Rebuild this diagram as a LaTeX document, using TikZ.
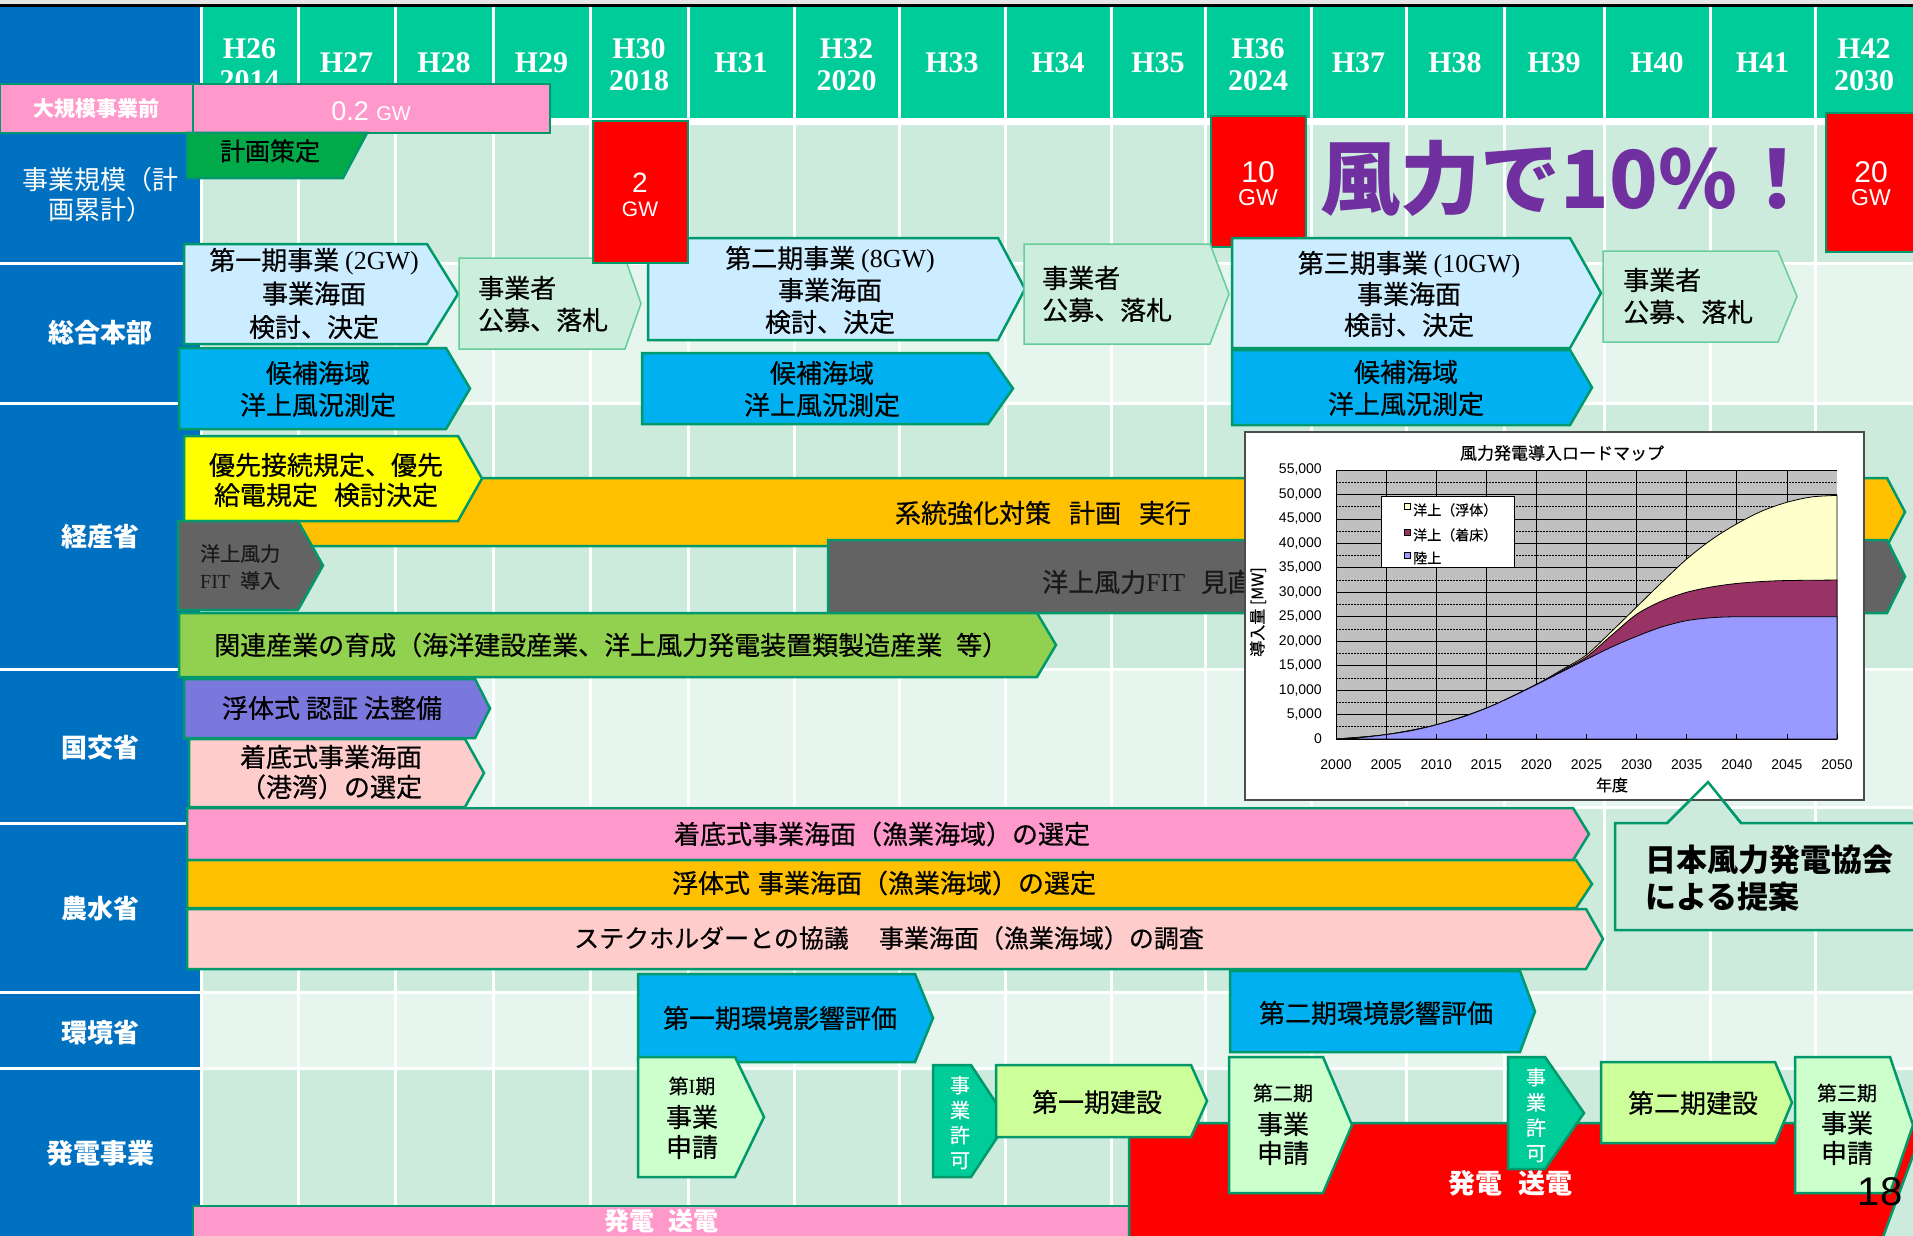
\documentclass[tikz,border=0pt]{standalone}
\usepackage{fontspec}
\setmainfont{Noto Sans CJK JP}
\newfontfamily\jp{Noto Sans CJK JP}
\newfontfamily\jpm{Noto Sans CJK JP}[FakeBold=0.5]
\newfontfamily\lsans{Liberation Sans}
\newfontfamily\lser{Liberation Serif}
\definecolor{hdgreen}{HTML}{00CC99}
\definecolor{colblue}{HTML}{0070C0}
\definecolor{gdark}{HTML}{CDEBDD}
\definecolor{glight}{HTML}{E6F5EE}
\definecolor{bord}{HTML}{00996B}
\definecolor{pinkA}{HTML}{FF99CC}
\definecolor{ltblue}{HTML}{CCECFF}
\definecolor{mint}{HTML}{CCEEDD}
\definecolor{mintb}{HTML}{66CC99}
\definecolor{skyb}{HTML}{00B0F0}
\definecolor{yel}{HTML}{FFFF00}
\definecolor{orng}{HTML}{FFC000}
\definecolor{gry}{HTML}{636363}
\definecolor{lgreen}{HTML}{92D050}
\definecolor{purp}{HTML}{7B78DD}
\definecolor{ltpink}{HTML}{FFCCCC}
\definecolor{tealb}{HTML}{00CC99}
\definecolor{ltgreen}{HTML}{CCFFCC}
\definecolor{ygreen}{HTML}{CCFF99}
\definecolor{purtxt}{HTML}{7030A0}
\definecolor{kgreen}{HTML}{00AA48}
\definecolor{chgray}{HTML}{C0C0C0}
\definecolor{chblue}{HTML}{9999FF}
\definecolor{chmar}{HTML}{993366}
\definecolor{chcream}{HTML}{FFFFCC}
\definecolor{redb}{HTML}{FF0000}
\newcommand\arrbox[6][]{\filldraw[#1] (#2,#3) -- (#4,#3) -- (#5,{(#3+#6)/2}) -- (#4,#6) -- (#2,#6) -- cycle;}
\tikzset{
 box/.style={draw=bord, line width=2.5pt},
 mintbox/.style={draw=mintb, line width=1.5pt, fill=mint},
 tx/.style={inner sep=0pt, align=center, font=\jpm\fontsize{26}{33}\selectfont},
 lab/.style={inner sep=0pt, align=center, text=white, font=\jp\bfseries\fontsize{26}{30}\selectfont},
 hd/.style={inner sep=0pt, align=center, text=white, font=\lser\bfseries\fontsize{30}{32}\selectfont},
 gridw/.style={white, line width=3pt},
 chl/.style={inner sep=0pt, font=\lsans\fontsize{14}{14}\selectfont},
}
\begin{document}
\begin{tikzpicture}[x=1pt, y=-1pt]
\useasboundingbox (0,0) rectangle (1913,1236);
\fill[white] (0,0) rectangle (1913,1236);
\fill[black!10] (0,0) rectangle (1913,4);
\draw[black, line width=2.5pt] (0,5.5) -- (1913,5.5);
% header and left column
\fill[hdgreen] (201,7) rectangle (1913,118);
\fill[colblue] (0,7) rectangle (201,1236);
% row backgrounds
\fill[gdark] (201,125) rectangle (1913,263);
\fill[glight] (201,263) rectangle (1913,403);
\fill[gdark] (201,403) rectangle (1913,669);
\fill[glight] (201,669) rectangle (1913,807);
\fill[gdark] (201,807) rectangle (1913,992);
\fill[glight] (201,992) rectangle (1913,1068);
\fill[gdark] (201,1068) rectangle (1913,1236);
% grid lines
\foreach \gx in {201,298,395,493,590,688,794,899,1005,1111,1205,1311,1406,1504,1604,1710,1815}
  \draw[gridw] (\gx,7) -- (\gx,1236);
\foreach \gy in {263,403,669,807,992,1068}
  \draw[gridw] (201,\gy) -- (1913,\gy);
\foreach \gy in {263,403,669,823,992,1068}
  \draw[gridw] (0,\gy) -- (201,\gy);
% header labels
\foreach \cx/\lbl/\cy [count=\i] in {249.5/{H26\\2014}/65, 346.5/H27/63, 444/H28/63, 541.5/H29/63, 639/{H30\\2018}/65, 741/H31/63, 846.5/{H32\\2020}/65, 952/H33/63, 1058/H34/63, 1158/H35/63, 1258/{H36\\2024}/65, 1358.5/H37/63, 1455/H38/63, 1554/H39/63, 1657/H40/63, 1762.5/H41/63, 1864/{H42\\2030}/65}
  \node[hd] (hd\i) at (\cx,\cy) {\lbl};
% left labels
\node[inner sep=0pt, align=center, text=white, font=\jp\fontsize{26}{30}\selectfont] (lbjigyo) at (100,195) {事業規模（計\\画累計）};
\node[lab] (lbsogo) at (100,333) {総合本部};
\node[lab] (lbkeisan) at (100,537) {経産省};
\node[lab] (lbkokko) at (100,748) {国交省};
\node[lab] (lbnosui) at (100,909) {農水省};
\node[lab] (lbkankyo) at (100,1033) {環境省};
\node[lab, font=\jp\bfseries\fontsize{27}{30}\selectfont] (lbhatsu) at (100,1153) {発電事業};
% pre-scale boxes
\draw[box, fill=pinkA] (0,84) rectangle (193,133);
\node[inner sep=0pt, text=white, font=\jp\bfseries\fontsize{21}{21}\selectfont] (daikibo) at (96,109) {大規模事業前};
\draw[box, fill=pinkA] (193,84) rectangle (550,133);
\node[inner sep=0pt, text=white, font=\lsans\fontsize{27}{27}\selectfont] (gw02) at (371,111) {0.2 {\fontsize{20}{20}\selectfont GW}};
% keikaku
\filldraw[box, fill=kgreen] (187,133) -- (367,133) -- (343,178) -- (187,178) -- cycle;
\node[tx, font=\jpm\fontsize{25}{30}\selectfont] (keikaku) at (270,151) {計画策定};
% red 10 / 20
\draw[box, fill=redb] (1211,116) rectangle (1306,247);
\node[inner sep=0pt, text=white, font=\lsans\fontsize{30}{30}\selectfont] (r10a) at (1258,172) {10};
\node[inner sep=0pt, text=white, font=\lsans\fontsize{23}{23}\selectfont] (r10b) at (1258,198) {GW};
\draw[box, fill=redb] (1826,113) rectangle (1925,252);
\node[inner sep=0pt, text=white, font=\lsans\fontsize{30}{30}\selectfont] (r20a) at (1871,172) {20};
\node[inner sep=0pt, text=white, font=\lsans\fontsize{23}{23}\selectfont] (r20b) at (1871,198) {GW};
% sogo honbu boxes
\arrbox[box, fill=ltblue]{184}{244}{427}{458}{344}
\node[tx, font=\jpm\fontsize{26}{33.5}\selectfont] (s1) at (314,293.5) {第一期事業 {\lser (2GW)}\\事業海面\\検討、決定};
\arrbox[mintbox]{459}{258}{625}{641}{349}
\node[tx, align=left, anchor=west, font=\jpm\fontsize{26}{32}\selectfont] (b1) at (478,304) {事業者\\公募、落札};
\arrbox[box, fill=ltblue]{648}{238}{998}{1025}{340}
\node[tx, font=\jpm\fontsize{26}{32}\selectfont] (s2) at (830,290) {第二期事業 {\lser (8GW)}\\事業海面\\検討、決定};
\arrbox[mintbox]{1024}{244}{1210}{1229}{344}
\node[tx, align=left, anchor=west, font=\jpm\fontsize{26}{32}\selectfont] (b2) at (1042,294) {事業者\\公募、落札};
\arrbox[box, fill=ltblue]{1232}{238}{1570}{1601}{348}
\node[tx, font=\jpm\fontsize{26}{31}\selectfont] (s3) at (1409,294) {第三期事業 {\lser (10GW)}\\事業海面\\検討、決定};
\arrbox[mintbox]{1603}{251}{1778}{1797}{342}
\node[tx, align=left, anchor=west, font=\jpm\fontsize{26}{32}\selectfont] (b3) at (1623,296) {事業者\\公募、落札};
\arrbox[box, fill=skyb]{179}{348}{446}{470}{429}
\node[tx, font=\jpm\fontsize{26}{32}\selectfont] (k1) at (318,389) {候補海域\\洋上風況測定};
\arrbox[box, fill=skyb]{642}{353}{988}{1013}{424}
\node[tx, font=\jpm\fontsize{26}{32}\selectfont] (k2) at (822,389) {候補海域\\洋上風況測定};
\arrbox[box, fill=skyb]{1232}{350}{1570}{1592}{425}
\node[tx, font=\jpm\fontsize{26}{32}\selectfont] (k3) at (1406,388) {候補海域\\洋上風況測定};
% red 2GW on top
\draw[box, fill=redb] (593,121) rectangle (688,263);
\node[inner sep=0pt, text=white, font=\lsans\fontsize{28}{28}\selectfont] (r2a) at (640,183) {2};
\node[inner sep=0pt, text=white, font=\lsans\fontsize{21}{21}\selectfont] (r2b) at (640,209) {GW};
% big slogan
\node[inner sep=0pt, text=purtxt, font=\jp\bfseries\fontsize{80}{80}\selectfont] (slogan) at (1569,178) {風力で10\%！};
% keisansho
\arrbox[box, fill=orng]{260}{478}{1887}{1905}{546}
\node[tx] (keito) at (1043,513) {系統強化対策\hspace{18pt}計画\hspace{18pt}実行};
\arrbox[box, fill=gry]{828}{540}{1887}{1905}{613}
\node[tx, anchor=west, text=black!90] (fitmin) at (1042,582) {洋上風力{\lser FIT}\hspace{16pt}見直し};
\arrbox[box, fill=yel]{184}{436}{458}{482}{521}
\node[tx, font=\jpm\fontsize{26}{30}\selectfont] (yusen) at (326,480) {優先接続規定、優先\\給電規定\hspace{16pt}検討決定};
\arrbox[box, fill=gry]{178}{521}{298}{323}{610}
\node[tx, align=left, anchor=west, text=black!90, font=\jpm\fontsize{20}{27}\selectfont] (fitin) at (200,567) {洋上風力\\{\lser FIT}\hspace{10pt}導入};
\arrbox[box, fill=lgreen]{179}{613}{1037}{1056}{677}
\node[tx, anchor=west] (kanren) at (214,645) {関連産業の育成（海洋建設産業、洋上風力発電装置類製造産業\hspace{14pt}等）};
% kokkosho
\arrbox[box, fill=purp]{184}{679}{475}{490}{738}
\node[tx] (futai) at (332,708) {浮体式\hspace{6pt}認証\hspace{6pt}法整備};
\arrbox[box, fill=ltpink]{189}{739}{465}{484}{807}
\node[tx, font=\jpm\fontsize{26}{30}\selectfont] (kowan) at (331,772) {着底式事業海面\\（港湾）の選定};
% nosuisho
\arrbox[box, fill=pinkA]{187}{808}{1573}{1589}{860}
\node[tx] (gyo1) at (882,834) {着底式事業海面（漁業海域）の選定};
\arrbox[box, fill=orng]{187}{860}{1576}{1592}{908}
\node[tx] (gyo2) at (884,883) {浮体式\hspace{8pt}事業海面（漁業海域）の選定};
\arrbox[box, fill=ltpink]{187}{909}{1586}{1603}{969}
\node[tx, font=\jpm\fontsize{25}{30}\selectfont] (gyo3) at (889,938) {ステクホルダーとの協議\hspace{30pt}事業海面（漁業海域）の調査};
% callout
\filldraw[box, fill=gdark] (1615,823) -- (1667,823) -- (1708,782) -- (1741,823) -- (1925,823) -- (1925,930) -- (1615,930) -- cycle;
\node[tx, align=left, anchor=west, font=\jp\bfseries\fontsize{31}{37}\selectfont] (kyokai) at (1645,878) {日本風力発電協会\\による提案};
% chart
\draw[fill=white, draw=black!70, line width=1.5pt] (1245,432) rectangle (1864,800);
\node[inner sep=0pt, font=\jpm\fontsize{17}{17}\selectfont] (ctitle) at (1562,453) {風力発電導入ロードマップ};
\begin{scope}[shift={(1336,739)}, x=10.02pt, y=4.891pt]
  \fill[chgray] (0,0) rectangle (50,55);
  \foreach \v in {5,10,...,55} \draw[black, line width=0.8pt] (0,\v) -- (50,\v);
  \foreach \v in {2.5,7.5,...,52.5} \draw[black, line width=0.7pt, dash pattern=on 2pt off 1pt] (0,\v) -- (50,\v);
  \foreach \u in {5,10,...,45} \draw[black, line width=0.8pt] (\u,0) -- (\u,55);
  \filldraw[fill=chcream, draw=black, line width=0.8pt] (0,0) -- plot[smooth, tension=0.5] coordinates {(0,0) (5,0.9) (10,2.9) (15,6.3) (20,11.2) (22.5,14.1) (25,17.2) (27.5,22.0) (30,27.0) (32.5,32.0) (35,36.8) (37.5,40.8) (40,44.0) (42.5,46.6) (45,48.4) (47.5,49.5) (50,49.8)} -- (50,0) -- cycle;
  \filldraw[fill=chmar, draw=black, line width=0.8pt] (0,0) -- plot[smooth, tension=0.5] coordinates {(0,0) (5,0.9) (10,2.9) (15,6.3) (20,11.1) (22.5,13.9) (25,16.8) (27.5,21.2) (30,25.5) (32.5,28.2) (35,30.0) (37.5,31.1) (40,31.8) (42.5,32.2) (45,32.4) (50,32.5)} -- (50,0) -- cycle;
  \filldraw[fill=chblue, draw=black, line width=0.8pt] (0,0) -- plot[smooth, tension=0.5] coordinates {(0,0) (2.5,0.3) (5,0.9) (7.5,1.7) (10,2.9) (12.5,4.4) (15,6.3) (17.5,8.6) (20,11.1) (22.5,13.7) (25,16.3) (27.5,18.8) (30,21.0) (32.5,22.9) (35,24.2) (37.5,24.8) (40,25.0) (45,25.0) (50,25.0)} -- (50,0) -- cycle;
  \draw[black, line width=1pt] (0,55) -- (0,0) -- (50,0);
  \foreach \u in {5,10,...,50} \draw[black, line width=0.8pt] (\u,0) -- (\u,1);
  \foreach \v/\t in {0/0, 5/{5,000}, 10/{10,000}, 15/{15,000}, 20/{20,000}, 25/{25,000}, 30/{30,000}, 35/{35,000}, 40/{40,000}, 45/{45,000}, 50/{50,000}, 55/{55,000}}
    \node[chl, anchor=east] (yl\v) at (-1.4,\v) {\t};
  \foreach \u in {0,5,...,50}
    \node[chl] (xl\u) at (\u,-5.3) {\number\numexpr2000+\u\relax};
\end{scope}
\node[inner sep=0pt, font=\jpm\fontsize{16}{16}\selectfont] (nendo) at (1612,785) {年度};
\node[inner sep=0pt, rotate=90, font=\jpm\fontsize{16}{16}\selectfont] (dounyu) at (1258,612) {導入量 [MW]};
\draw[fill=white, draw=black, line width=0.8pt] (1381,496) rectangle (1514,567);
\draw[fill=chcream, draw=black, line width=0.5pt] (1404,503) rectangle (1410,509);
\draw[fill=chmar, draw=black, line width=0.5pt] (1404,529) rectangle (1410,535);
\draw[fill=chblue, draw=black, line width=0.5pt] (1404,552) rectangle (1410,558);
\node[inner sep=0pt, anchor=west, font=\jpm\fontsize{14}{14}\selectfont] (lg1) at (1413,510) {洋上（浮体）};
\node[inner sep=0pt, anchor=west, font=\jpm\fontsize{14}{14}\selectfont] (lg2) at (1413,535) {洋上（着床）};
\node[inner sep=0pt, anchor=west, font=\jpm\fontsize{14}{14}\selectfont] (lg3) at (1413,558) {陸上};
\draw[bord, line width=2.5pt] (1667,823) -- (1708,782) -- (1741,823);
% kankyosho
\arrbox[box, fill=skyb]{638}{974}{915}{933}{1062}
\node[tx] (env1) at (780,1018) {第一期環境影響評価};
\arrbox[box, fill=skyb]{1230}{971}{1520}{1535}{1052}
\node[tx] (env2) at (1376,1013) {第二期環境影響評価};
% hatsuden jigyo
\draw[box, fill=pinkA] (193,1206) rectangle (1129,1245);
\node[inner sep=0pt, text=white, font=\jp\bfseries\fontsize{25}{25}\selectfont] (soden1) at (661,1221) {発電\hspace{14pt}送電};
\filldraw[box, fill=redb] (1129,1123) -- (1925,1123) -- (1880,1245) -- (1129,1245) -- cycle;
\node[inner sep=0pt, text=white, font=\jp\bfseries\fontsize{27}{27}\selectfont] (soden2) at (1510,1183) {発電\hspace{16pt}送電};
\arrbox[box, fill=ltgreen]{638}{1057}{735}{764}{1177}
\node[tx, font=\jpm\fontsize{20}{20}\selectfont] (p1a) at (692,1086) {第{\lser I}期};
\node[tx] (p1b) at (692,1117) {事業};
\node[tx] (p1c) at (692,1147) {申請};
\arrbox[box, fill=tealb]{933}{1065}{971}{1008}{1177}
\node[tx, text=white, font=\jpm\fontsize{20}{25}\selectfont] (kyoka1) at (960,1122.5) {事\\業\\許\\可};
\arrbox[box, fill=ygreen]{996}{1065}{1191}{1207}{1137}
\node[tx] (ken1) at (1097,1102) {第一期建設};
\arrbox[box, fill=ltgreen]{1229}{1057}{1323}{1352}{1193}
\node[tx, font=\jpm\fontsize{20}{20}\selectfont] (p2a) at (1283,1093) {第二期};
\node[tx] (p2b) at (1283,1124) {事業};
\node[tx] (p2c) at (1283,1153) {申請};
\arrbox[box, fill=tealb]{1508}{1057}{1545}{1584}{1169}
\node[tx, text=white, font=\jpm\fontsize{20}{25.3}\selectfont] (kyoka2) at (1536,1115) {事\\業\\許\\可};
\arrbox[box, fill=ygreen]{1601}{1062}{1775}{1792}{1143}
\node[tx] (ken2) at (1693,1103) {第二期建設};
\arrbox[box, fill=ltgreen]{1795}{1057}{1890}{1913}{1193}
\node[tx, font=\jpm\fontsize{20}{20}\selectfont] (p3a) at (1847,1093) {第三期};
\node[tx] (p3b) at (1847,1123) {事業};
\node[tx] (p3c) at (1847,1153) {申請};
\node[inner sep=0pt, font=\lsans\fontsize{40}{40}\selectfont] (pageno) at (1880,1192) {18};
\end{tikzpicture}
\end{document}
